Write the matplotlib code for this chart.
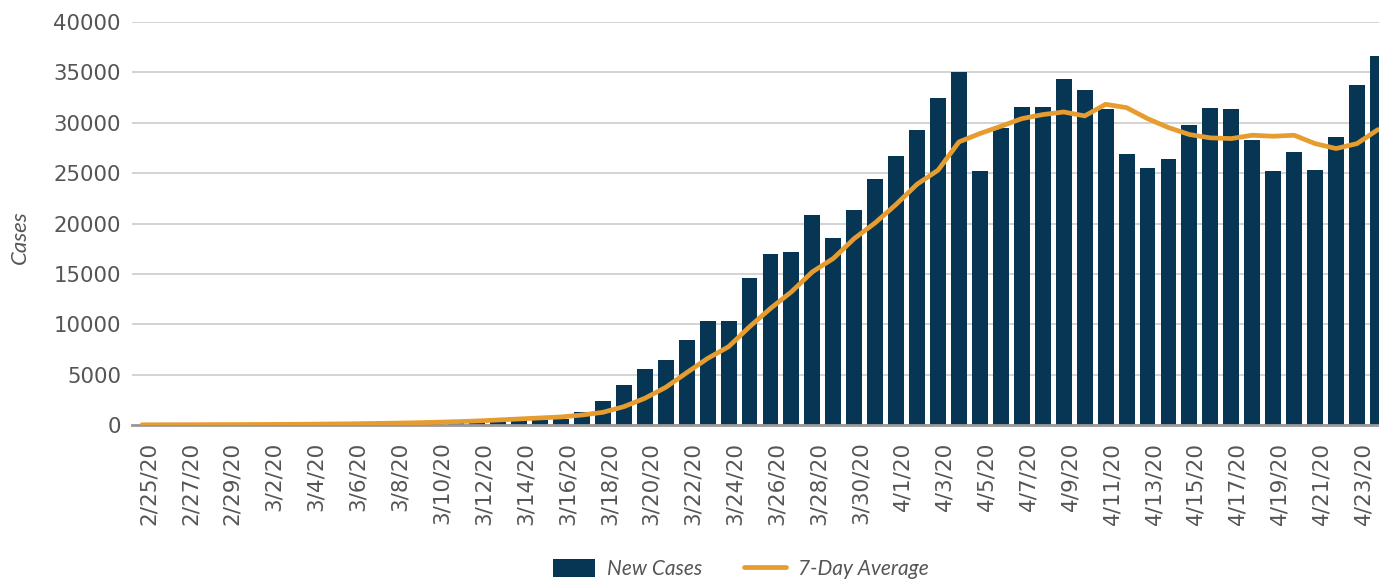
import matplotlib
matplotlib.use("Agg")
import matplotlib.pyplot as plt
import matplotlib.transforms as mtransforms
import numpy as np

dates = ["2/25/20", "2/26/20", "2/27/20", "2/28/20", "2/29/20",
         "3/1/20", "3/2/20", "3/3/20", "3/4/20", "3/5/20", "3/6/20", "3/7/20",
         "3/8/20", "3/9/20", "3/10/20", "3/11/20", "3/12/20", "3/13/20", "3/14/20",
         "3/15/20", "3/16/20", "3/17/20", "3/18/20", "3/19/20", "3/20/20", "3/21/20",
         "3/22/20", "3/23/20", "3/24/20", "3/25/20", "3/26/20", "3/27/20", "3/28/20",
         "3/29/20", "3/30/20", "3/31/20",
         "4/1/20", "4/2/20", "4/3/20", "4/4/20", "4/5/20", "4/6/20", "4/7/20",
         "4/8/20", "4/9/20", "4/10/20", "4/11/20", "4/12/20", "4/13/20", "4/14/20",
         "4/15/20", "4/16/20", "4/17/20", "4/18/20", "4/19/20", "4/20/20", "4/21/20",
         "4/22/20", "4/23/20", "4/24/20"]

new_cases = [5, 10, 5, 15, 20, 25, 20, 30, 50, 60, 70, 120, 180, 240, 300,
             350, 400, 450, 500, 550, 620,
             1256, 2380, 3967, 5554, 6446, 8430, 10314, 10314, 14612, 16959,
             17157, 20826, 18545, 21322, 24397, 26711, 29256,
             32430, 35008, 25190, 29455, 31537, 31537, 34314, 33223, 31400,
             26876, 25488, 26380, 29752, 31438, 31339, 28264, 25190, 27074,
             25289, 28562, 33719, 36595]

avg_7day = [20, 25, 30, 35, 40, 45, 55, 65, 80, 100, 120, 150, 180, 220, 270,
            330, 400, 500, 600, 700, 800,
            990, 1260, 1820, 2650, 3740, 5190, 6610, 7770, 9750, 11570,
            13220, 15200, 16530, 18510, 20070, 21900, 23900,
            25290, 28100, 28930, 29650, 30410, 30810, 31070, 30680, 31830,
            31500, 30410, 29520, 28830, 28500, 28430, 28760, 28660, 28760,
            27930, 27440, 27930, 29320]

bar_color = "#063654"
line_color = "#E69C2E"
text_color = "#555555"

fig = plt.figure(figsize=(13.79, 5.83), dpi=100)
ax = fig.add_axes([132 / 1379, 1 - 425 / 583, 1 - 132 / 1379, (425 - 22) / 583])

x = np.arange(len(dates))
bars = ax.bar(x, new_cases, width=0.76, color=bar_color, label="New Cases", zorder=2)
line, = ax.plot(x, avg_7day, color=line_color, lw=3.4, label="7-Day Average", zorder=3,
                solid_capstyle="round", solid_joinstyle="round")

ax.set_ylim(0, 40000)
ax.set_xlim(-0.48, 59.05)
ax.set_yticks(np.arange(0, 40001, 5000))
ax.yaxis.grid(True, color="#cccccc", lw=1.2, zorder=0)
ax.set_axisbelow(True)
for s in ["top", "right", "left"]:
    ax.spines[s].set_visible(False)
ax.spines["bottom"].set_color("#999999")
ax.spines["bottom"].set_linewidth(2)

ax.set_xticks(x[::2])
ax.set_xticklabels(dates[::2], rotation=90, fontsize=15.5, color=text_color,
                   family="DejaVu Sans")
ax.tick_params(axis="x", length=0, pad=12)
ax.tick_params(axis="y", length=0, pad=8, labelsize=15.3, labelcolor=text_color)
# labels in the reference sit a few px right of the bar centres
shift = mtransforms.ScaledTranslation(6.5 / 100, 0, fig.dpi_scale_trans)
for lab in ax.get_xticklabels():
    lab.set_transform(lab.get_transform() + shift)

fig.text(20 / 1379, 1 - 237 / 583, "Cases", rotation=90, ha="center", va="center",
         fontsize=16, style="italic", color=text_color, family="Lato")

fig.legend(handles=[bars, line], loc="lower center", bbox_to_anchor=(741 / 1379, -0.025),
           ncol=2, frameon=False, prop={"family": "Lato", "style": "italic", "size": 15},
           labelcolor=text_color, handlelength=2.0, handleheight=0.95, columnspacing=2.0,
           handletextpad=0.6)

fig.savefig("out.png", dpi=100)
